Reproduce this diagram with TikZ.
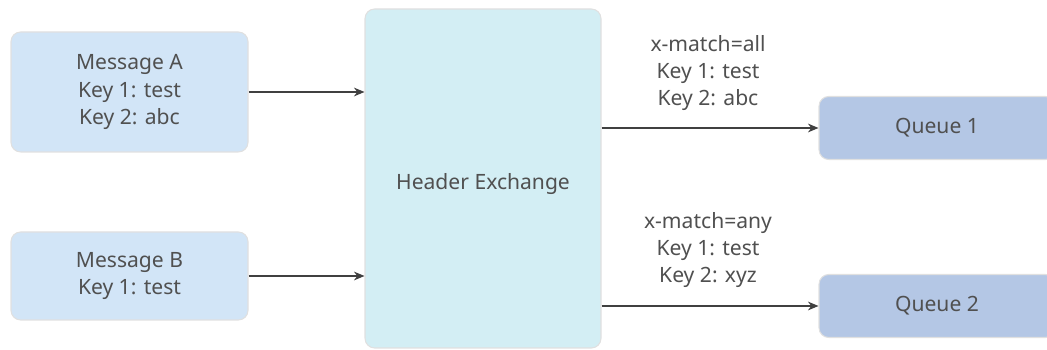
\documentclass[tikz,border=0pt]{standalone}
\usepackage{fontspec}
\setmainfont{Noto Sans}
\usetikzlibrary{arrows.meta}
\definecolor{msgfill}{HTML}{D2E5F7}
\definecolor{exfill}{HTML}{D3EEF4}
\definecolor{qfill}{HTML}{B4C7E5}
\definecolor{txtgray}{HTML}{505050}
\definecolor{arrgray}{HTML}{404040}
\tikzset{
  box/.style={draw=black!12,line width=0.6pt,rounded corners=5.5pt,align=center,
    text=txtgray,font=\fontsize{12}{15.5}\selectfont,inner sep=0pt},
  msgbox/.style={box,fill=msgfill,minimum width=237*0.02cm},
  qbox/.style={box,fill=qfill,minimum width=236*0.02cm,minimum height=63*0.02cm},
  rulelabel/.style={align=center,text=txtgray,font=\fontsize{12}{15.5}\selectfont},
  arr/.style={arrgray,line width=0.75pt,-{Stealth[length=6pt,width=5pt]}}
}
\begin{document}
\begin{tikzpicture}[x=0.02cm,y=-0.02cm]
\useasboundingbox (0,0) rectangle (1047,350);
\node[msgbox,minimum height=120*0.02cm] (msgA) at (129.5,92) {Message A\\Key 1: test\\Key 2: abc};
\node[msgbox,minimum height=88*0.02cm] (msgB) at (129.5,276) {Message B\\Key 1: test};
\node[box,fill=exfill,minimum width=236*0.02cm,minimum height=339*0.02cm,text height=15pt] (exch) at (483,178.5) {Header Exchange};
\node[qbox] (q1) at (937,128) {Queue 1};
\node[qbox] (q2) at (937,306) {Queue 2};
\draw[arr] (msgA.east) -- (msgA.east -| exch.west);
\draw[arr] (msgB.east) -- (msgB.east -| exch.west);
\draw[arr] (q1.west -| exch.east) -- (q1.west);
\draw[arr] (q2.west -| exch.east) -- (q2.west);
\node[rulelabel] (all) at (708,73) {x-match=all\\Key 1: test\\Key 2: abc};
\node[rulelabel] (any) at (708,250) {x-match=any\\Key 1: test\\Key 2: xyz};
\end{tikzpicture}
\end{document}
